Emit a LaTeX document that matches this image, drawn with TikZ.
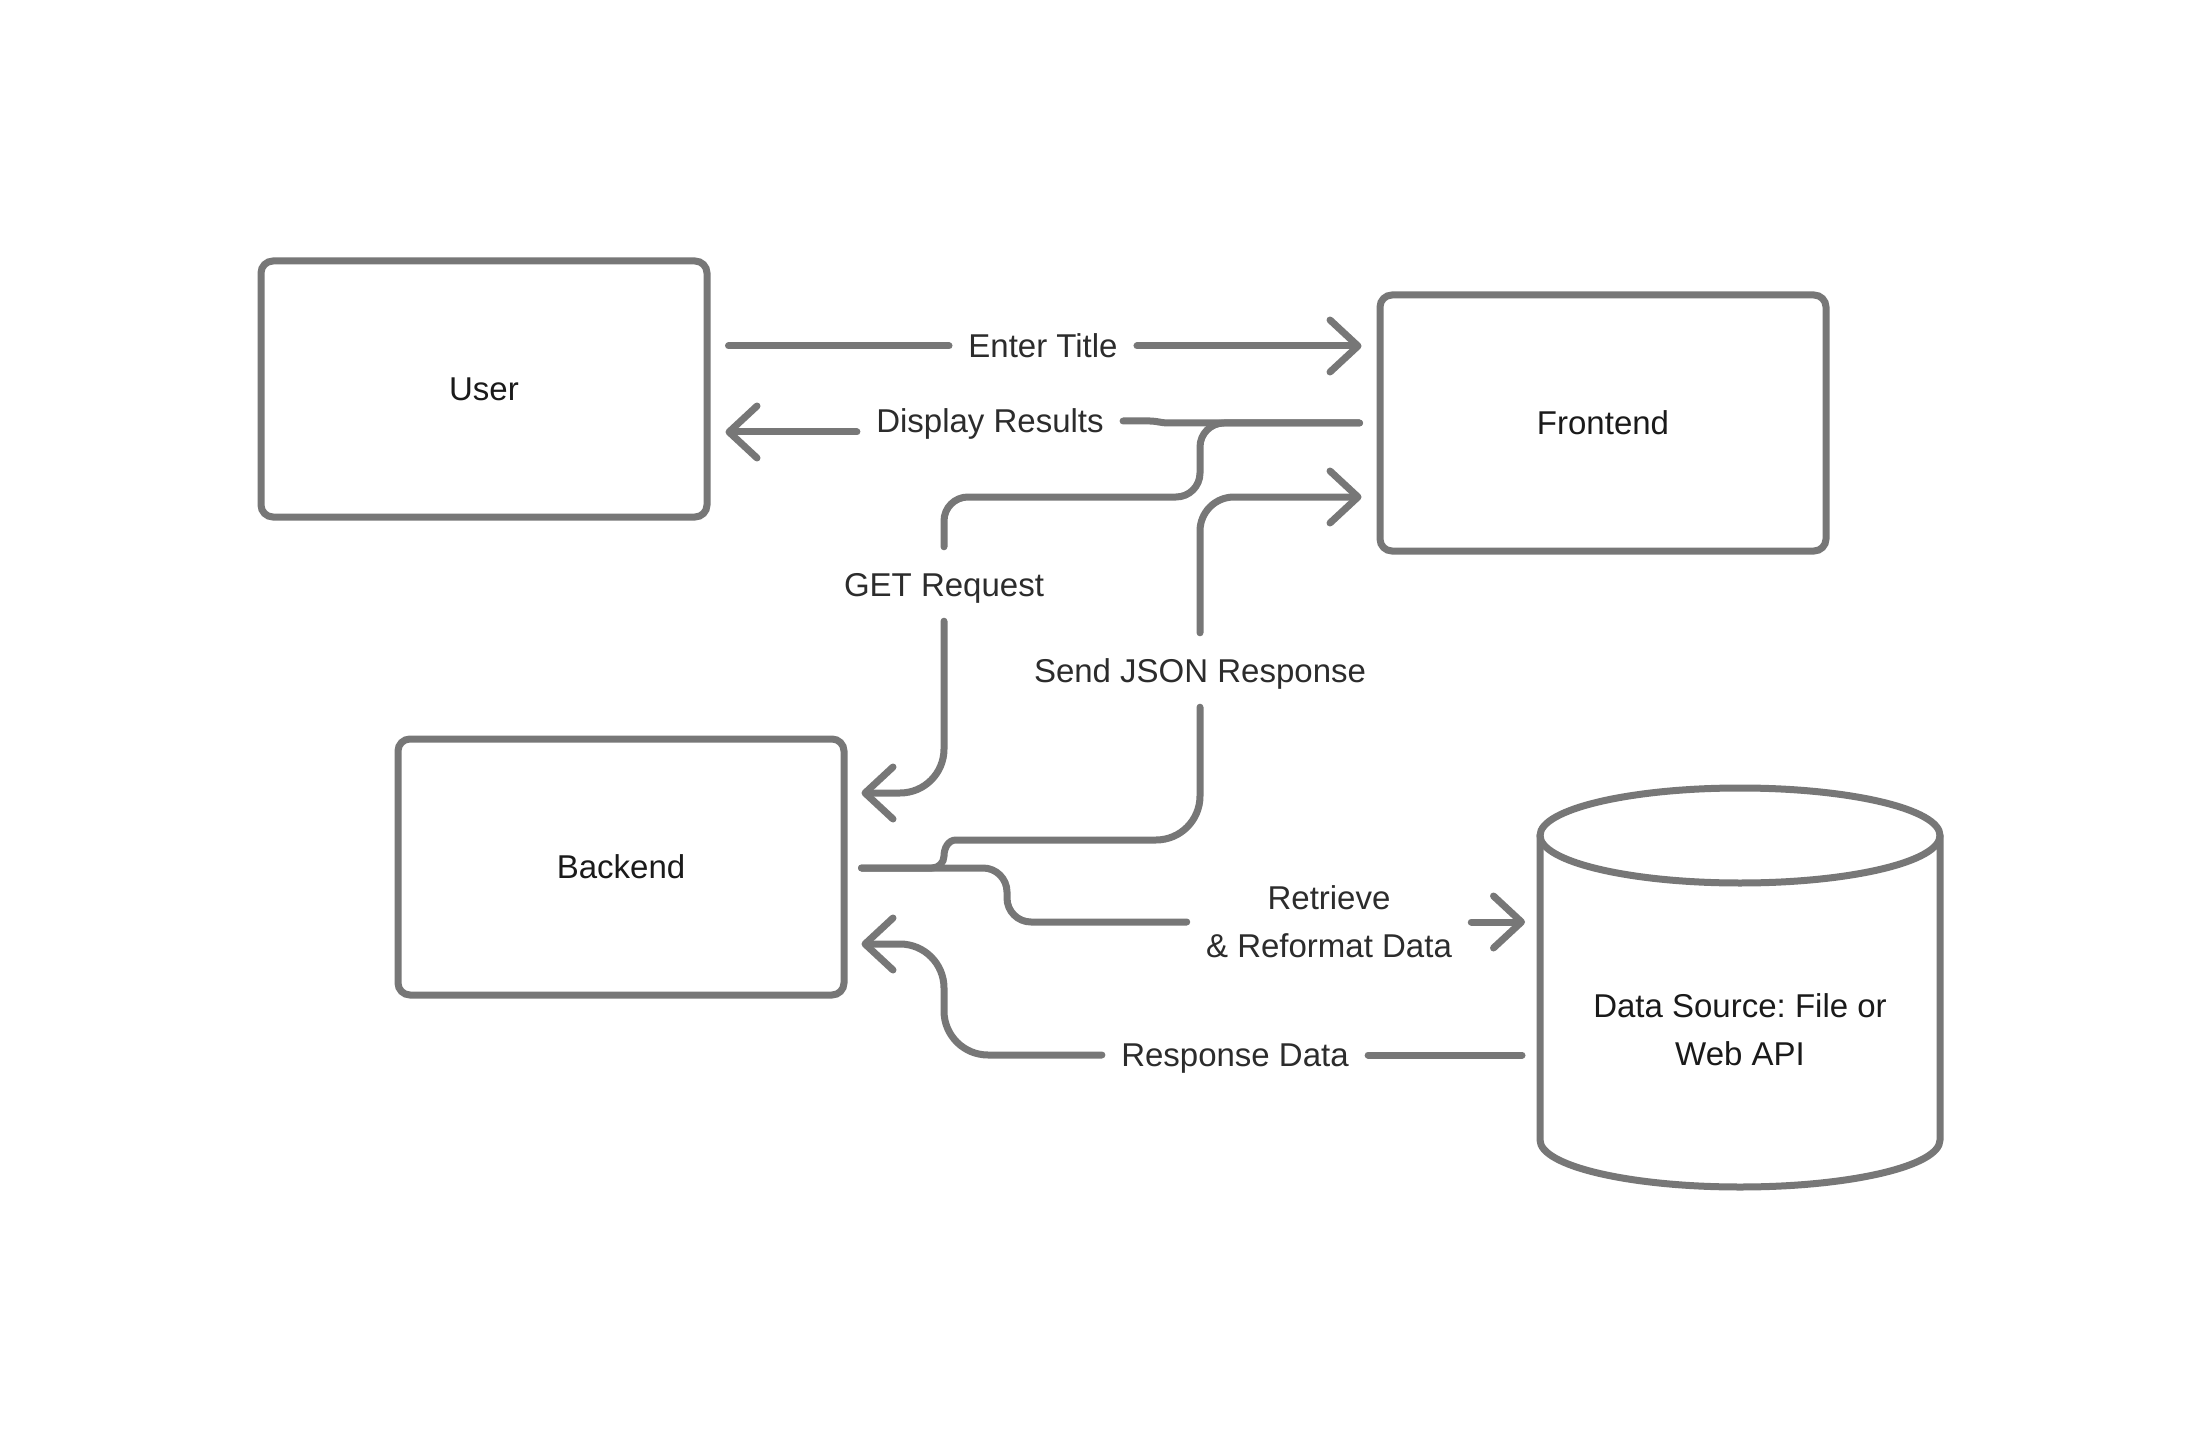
\documentclass[tikz,border=0pt]{standalone}
\usepackage{fontspec}
\setmainfont{Liberation Sans}
\usetikzlibrary{arrows.meta,calc}
\definecolor{edge}{HTML}{777777}
\definecolor{ink}{HTML}{1A1A1A}
\definecolor{labelink}{HTML}{2C2C2C}
\frenchspacing

\begin{document}
\begin{tikzpicture}[x=0.5pt,y=-0.5pt,
  every node/.style={font=\fontsize{16.5}{24}\selectfont},
  block/.style={draw=edge, line width=3.5pt, rounded corners=6pt,
    minimum width=223pt, minimum height=128pt, text=ink, inner sep=0pt},
  flow/.style={draw=edge, line width=3.5pt, line cap=round, line join=round},
  pointy/.style={-{Straight Barb[length=14pt,width=26pt,round]}},
  flowbase/.style={text=labelink, inner xsep=9.5pt, inner ysep=0pt},
  flowtext/.style={flowbase, text height=11.8pt, text depth=0pt},
]
% canvas
\fill[white] (0,0) rectangle (2200,1449);
\useasboundingbox (0,0) rectangle (2200,1449);

% components
\node[block] (user) at (484,389) {User};
\node[block] (frontend) at (1603,423) {Frontend};
\node[block] (backend) at (621,867) {Backend};
\node[text=ink, align=center, inner sep=0pt] (ds) at (1740,1030) {Data Source: File or\\Web API};

% data store outline
\draw[flow] ($(ds.center)+(0,-194.5)$) ellipse[x radius=100pt, y radius=23.75pt];
\draw[flow] ($(ds.center)+(-200,-194.5)$) -- ($(ds.center)+(-200,110)$)
  arc[start angle=180, end angle=360, x radius=100pt, y radius=23.5pt]
  -- ($(ds.center)+(200,-194.5)$);

% connector labels
\node[flowtext] (etl) at (1043,346) {Enter Title};
\node[flowtext] (drl) at (990,421) {Display Results};
\node[flowtext] (getl) at (944,585) {GET Request};
\node[flowtext] (sjl) at (1200,671) {Send JSON Response};
\node[flowbase, align=center] (rl) at (1329,922) {Retrieve\\\& Reformat Data};
\node[flowtext] (rdl) at (1235,1055) {Response Data};

% Enter Title
\draw[flow] ($(user.east)+(18,-43)$) -- (etl.west);
\draw[flow, pointy] (etl.east) -- ($(frontend.west)+(-15,-77)$);

% Display Results
\draw[flow] ($(frontend.west)+(-17,0)$) -- (1168,423) to[out=180,in=0] (1150,421) -- (drl.east);
\draw[flow, pointy] ($(drl.west)+(0,11)$) -- ($(user.east)+(15,43)$);

% GET Request
\draw[flow, rounded corners=12pt] ($(frontend.west)+(-17,0)$) -- (1200,423) -- (1200,497)
  -- (944,497) -- ([yshift=13pt]getl.north);
\draw[flow, pointy, rounded corners=22pt] ([yshift=-12pt]getl.south) -- (944,793)
  -- ($(backend.east)+(14,-74)$);

% Send JSON Response
\draw[flow] ($(backend.east)+(14,1)$) -- (932,868) to[out=0,in=-90] (944,856)
  to[out=90,in=180] (956,840) [rounded corners=22pt] -- (1200,840) -- ([yshift=-12pt]sjl.south);
\draw[flow, pointy, rounded corners=17pt] ([yshift=13pt]sjl.north) -- (1200,497)
  -- ($(frontend.west)+(-15,74)$);

% Retrieve & Reformat Data
\draw[flow, rounded corners=12pt] ($(backend.east)+(14,1)$) -- (1007,868) -- (1007,922) -- (rl.west);
\draw[flow, pointy] (rl.east) -- ($(ds.center)+(-215,-108)$);

% Response Data
\draw[flow] ($(ds.center)+(-218,25)$) -- (rdl.east);
\draw[flow, pointy, rounded corners=22pt] (rdl.west) -- (944,1055) -- (944,944)
  -- ($(backend.east)+(14,77)$);
\end{tikzpicture}
\end{document}
